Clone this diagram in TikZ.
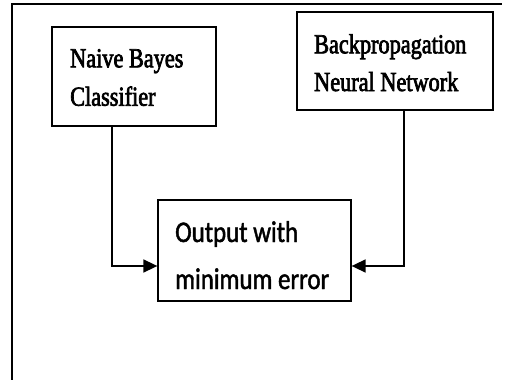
\documentclass[tikz,border=0pt]{standalone}
\usepackage{fontspec}
\usetikzlibrary{arrows.meta}
\newfontfamily\serifface[FakeStretch=0.81,FakeBold=2.5]{Liberation Serif}
\newfontfamily\sansface[FakeStretch=0.83,FakeBold=1.5]{Carlito}
\tikzset{
  box/.style={draw=black, line width=1.3pt, rectangle, inner sep=0pt},
  serifline/.style={anchor=base west, inner sep=0pt, font=\serifface\fontsize{27.5}{33}\selectfont},
  sansline/.style={anchor=base west, inner sep=0pt, font=\sansface\fontsize{30}{36}\selectfont},
  arr/.style={line width=1.6pt, -{Triangle[length=14pt,width=13pt]}},
  frame/.style={line width=1.5pt}
}
\begin{document}
\begin{tikzpicture}[x=1pt, y=-1pt]
  \useasboundingbox (0,0) rectangle (507,380);
  % outer frame: top and left edges
  \coordinate (fbl) at (12,380);
  \coordinate (ftl) at (12,4);
  \coordinate (ftr) at (502,4);
  \draw[frame] (fbl) -- (ftl) -- (ftr);

  % boxes
  \node[box, minimum width=164pt, minimum height=99pt] (nb) at (134,76.5) {};
  \node[box, minimum width=196pt, minimum height=98pt] (bp) at (395,61) {};
  \node[box, minimum width=193pt, minimum height=101pt] (out) at (254.5,250.5) {};

  % labels
  \node[serifline] (nb1) at (70,67.3) {Naive Bayes};
  \node[serifline] (nb2) at (70,105.7) {Classifier};
  \node[serifline] (bp1) at (314,53.3) {Backpropagation};
  \node[serifline] (bp2) at (314,91) {Neural Network};
  \node[sansline] (out1) at (175,242) {Output with};
  \node[sansline] (out2) at (175,289) {minimum error};

  % connectors
  \draw[arr] ([xshift=-22pt]nb.south) |- ([yshift=-15.5pt]out.west);
  \draw[arr] ([xshift=9pt]bp.south) |- ([yshift=-15.5pt]out.east);
\end{tikzpicture}
\end{document}
